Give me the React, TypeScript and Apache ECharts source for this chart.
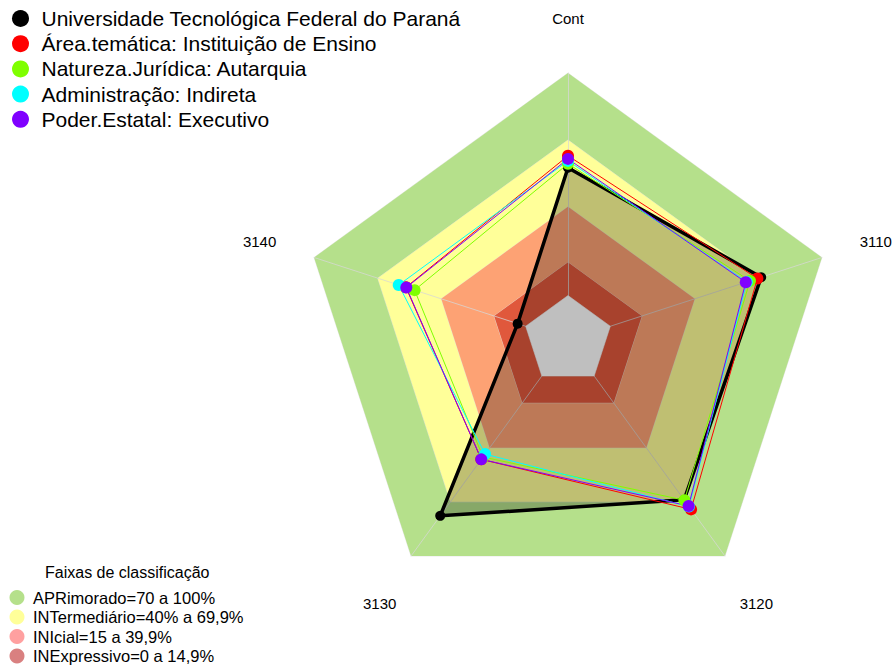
import React, { useEffect, useRef } from 'react';
import * as echarts from 'echarts';

// Axes, clockwise from the top as in the reference
const categories = ['Cont', '3110', '3120', '3130', '3140'];

// Series values (same order as categories)
const utfpr = [57.4, 71.3, 68.8, 77.7, 3.8];
const areaTematica = [62.8, 69.5, 74.1, 46.3, 56.6];
const naturezaJuridica = [59.2, 66, 69, 45, 52.5];
const administracao = [60.5, 64.5, 72.5, 43.4, 60];
const poderEstatal = [61.4, 64, 72.2, 46.3, 56.4];

const seriesNames = [
  'Universidade Tecnológica Federal do Paraná',
  'Área.temática: Instituição de Ensino',
  'Natureza.Jurídica: Autarquia',
  'Administração: Indireta',
  'Poder.Estatal: Executivo',
];
const seriesColors = ['#000000', '#FF0000', '#7FFF00', '#00FFFF', '#8000FF'];

// Classification bands
const bandNames = [
  'APRimorado=70 a 100%',
  'INTermediário=40% a 69,9%',
  'INIcial=15 a 39,9%',
  'INExpressivo=0 a 14,9%',
];
const bandUpper = [100, 69.9, 39.9, 14.9];
const bandFill = ['#B5E08B', '#FFFF99', '#FDA274', '#E0583C'];
const bandLegendColor = ['#B5E08B', '#FFFF99', '#FFA0A0', '#D98080'];
const bandTitle = 'Faixas de classificação';

const scaleMin = -20;
const scaleMax = 100;

const FONT = '"Liberation Sans", Arial, sans-serif';

// ECharts places indicators counter-clockwise; reorder to get clockwise layout
const order = [0, 4, 3, 2, 1];
const reorder = (arr: any[]) => order.map((i) => arr[i]);

// per-axis name offsets (rich-text padding keys)
const nameKey: Record<string, string> = { Cont: 't', '3110': 'r', '3120': 'br', '3130': 'bl', '3140': 'l' };

export default function App() {
  const ref = useRef<HTMLDivElement>(null);

  useEffect(() => {
    if (!ref.current) return;
    const chart = echarts.init(ref.current, null, { renderer: 'svg' });
    const n = categories.length;

    const bandSeries = bandNames.map((name, i) => ({
      type: 'radar',
      name,
      z: 1,
      symbol: 'none',
      silent: true,
      itemStyle: { color: bandLegendColor[i] },
      lineStyle: { color: 'rgba(225,225,225,0.7)', width: 1 },
      areaStyle: { color: bandFill[i], opacity: 1 },
      data: [{ name, value: new Array(n).fill(bandUpper[i]) }],
    }));

    const centerSeries = {
      type: 'radar',
      name: 'zero',
      z: 3,
      symbol: 'none',
      silent: true,
      itemStyle: { color: '#ffffff' },
      lineStyle: { color: 'rgba(225,225,225,0.7)', width: 1 },
      areaStyle: { color: '#ffffff', opacity: 1 },
      data: [{ name: 'zero', value: new Array(n).fill(0) }],
    };

    const dataArrays = [utfpr, areaTematica, naturezaJuridica, administracao, poderEstatal];
    const dataSeries = dataArrays.map((arr, i) => ({
      type: 'radar',
      name: seriesNames[i],
      z: 4,
      symbol: 'circle',
      symbolSize: i === 0 ? 10 : 12,
      itemStyle: { color: seriesColors[i], borderWidth: 0 },
      lineStyle: { color: seriesColors[i], width: i === 0 ? 3.5 : 1 },
      areaStyle: i === 0 ? { color: '#000000', opacity: 0.25 } : undefined,
      data: [{ name: seriesNames[i], value: reorder(arr) }],
    }));

    const nameStyle = { color: '#000', fontSize: 15, fontFamily: FONT };

    chart.setOption({
      animation: false,
      title: {
        text: bandTitle,
        left: 45,
        top: 564,
        padding: 0,
        textStyle: { fontSize: 16, fontWeight: 'normal', color: '#000', fontFamily: FONT },
      },
      legend: [
        {
          data: seriesNames,
          orient: 'vertical',
          left: 12,
          top: 8,
          padding: 0,
          icon: 'circle',
          itemWidth: 32,
          itemHeight: 17,
          itemGap: 4.2,
          selectedMode: false,
          textStyle: { fontSize: 21, lineHeight: 21, color: '#000', fontFamily: FONT },
        },
        {
          data: bandNames,
          orient: 'vertical',
          left: 9.5,
          top: 589,
          height: 80,
          padding: 0,
          icon: 'circle',
          itemWidth: 22,
          itemHeight: 15,
          itemGap: 2.5,
          selectedMode: false,
          textStyle: { fontSize: 16.5, lineHeight: 17, color: '#000', fontFamily: FONT },
        },
      ],
      radar: {
        z: 2,
        center: [568, 340],
        radius: 267,
        startAngle: 90,
        shape: 'polygon',
        indicator: reorder(categories).map((name) => ({ name, min: scaleMin, max: scaleMax })),
        nameGap: 25,
        axisName: {
          ...nameStyle,
          formatter: (name: string) => `{${nameKey[name]}|${name}}`,
          rich: {
            t: { ...nameStyle, padding: [0, 0, 22, 0] },
            r: { ...nameStyle, padding: [0, 0, 16, 14] },
            l: { ...nameStyle, padding: [0, 14, 16, 0] },
            br: { ...nameStyle, padding: [54, 0, 0, 0] },
            bl: { ...nameStyle, padding: [54, 0, 0, 0] },
          },
        },
        splitNumber: 4,
        splitLine: { show: false },
        splitArea: { show: false },
        axisLine: { show: true, lineStyle: { color: 'rgba(215,215,215,0.75)', width: 1 } },
        axisTick: { show: false },
        axisLabel: { show: false },
      },
      series: [...bandSeries, centerSeries, ...dataSeries],
    });

    return () => chart.dispose();
  }, []);

  return (
    <div
      ref={ref}
      style={{ position: 'fixed', left: 0, top: 0, width: 895, height: 670, background: '#fff' }}
    />
  );
}
